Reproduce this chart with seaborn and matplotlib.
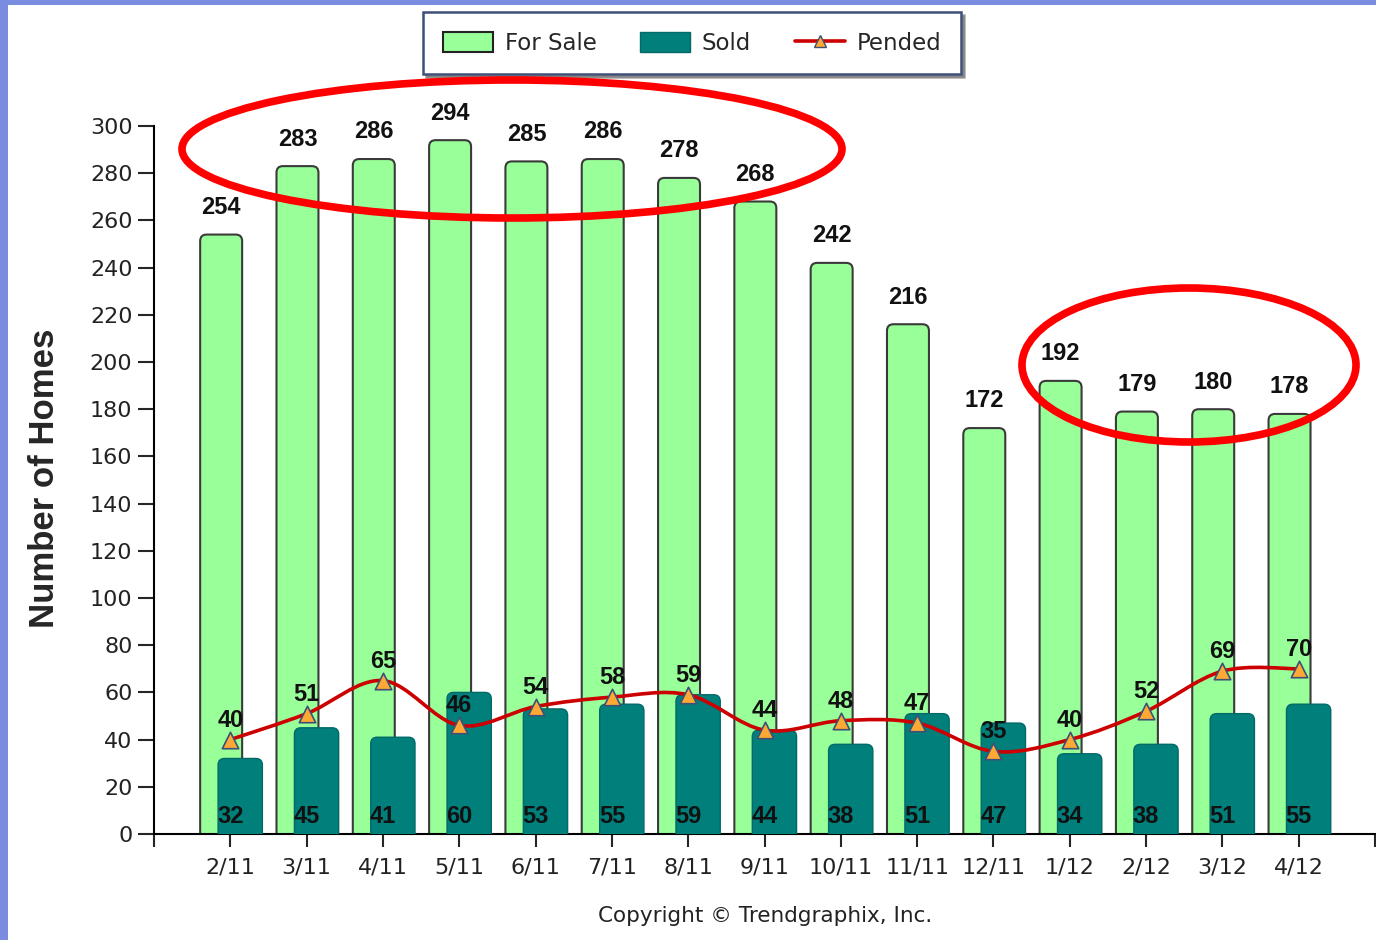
# Homes for sale / sold / pended, 2/11 - 4/12
import numpy as np
import pandas as pd
import matplotlib.pyplot as plt
import seaborn as sns
from matplotlib.patches import FancyBboxPatch, Ellipse, Rectangle, Patch, PathPatch, BoxStyle
from matplotlib.lines import Line2D
from matplotlib.path import Path

# ---------------------------------------------------------
# data
# ---------------------------------------------------------
months = ["2/11", "3/11", "4/11", "5/11", "6/11", "7/11", "8/11", "9/11",
          "10/11", "11/11", "12/11", "1/12", "2/12", "3/12", "4/12"]
for_sale = [254, 283, 286, 294, 285, 286, 278, 268, 242, 216, 172, 192, 179, 180, 178]
sold = [32, 45, 41, 60, 53, 55, 59, 44, 38, 51, 47, 34, 38, 51, 55]
pended = [40, 51, 65, 46, 54, 58, 59, 44, 48, 47, 35, 40, 52, 69, 70]
y_ticks = list(range(0, 301, 20))

# ---------------------------------------------------------
# style
# ---------------------------------------------------------
GREEN = "#99ff99"
TEAL = "#007f7b"
RED = "#cc0000"
ORANGE = "#ffa834"
BORDER = "#7a8ce0"

sns.set_style("ticks")
plt.rcParams["font.family"] = ["DejaVu Sans"]

W, H = 1376, 940
fig = plt.figure(figsize=(W / 100, H / 100), dpi=100)
fig.patch.set_facecolor(BORDER)
fig.add_artist(Rectangle((8 / W, 0), 1, 1 - 5 / H, transform=fig.transFigure,
                         facecolor="white", edgecolor="none", zorder=-5))

ax = fig.add_axes([154 / W, 1 - 834 / H, (1375 - 154) / W, (834 - 126) / H])
ax.set_facecolor("white")

df = pd.DataFrame({"month": months, "x": np.arange(len(months)),
                   "for_sale": for_sale, "sold": sold, "pended": pended})

# ---------------------------------------------------------
# bars
# ---------------------------------------------------------
sns.barplot(x=df["x"] - 0.12, y=df["for_sale"], native_scale=True, width=0.55,
            color=GREEN, saturation=1, edgecolor="#3a3a3a", linewidth=1.5, ax=ax)
sns.barplot(x=df["x"] + 0.13, y=df["sold"], native_scale=True, width=0.58,
            color=TEAL, saturation=1, edgecolor="#006a66", linewidth=1.0, ax=ax)

ax.set_xlim(-1, 15)
ax.set_ylim(0, 300)
ax.set_xlabel("")
ax.set_ylabel("")

# round the bar tops
bb = ax.get_window_extent()
asp = (bb.width / 16) / (bb.height / 300)
r = 0.085
bars = list(ax.patches)
for i, p in enumerate(bars):
    x0, w, h = p.get_x(), p.get_width(), p.get_height()
    fc, ec, lw = p.get_facecolor(), p.get_edgecolor(), p.get_linewidth()
    p.remove()
    ax.add_patch(FancyBboxPatch((x0, -r * asp), w, h + r * asp,
                                boxstyle=BoxStyle("Round", pad=0, rounding_size=r),
                                mutation_aspect=asp, facecolor=fc, edgecolor=ec,
                                linewidth=lw, zorder=2 if i < len(months) else 3))

# ---------------------------------------------------------
# pended line (smooth curve through the points)
# ---------------------------------------------------------
pts = df[["x", "pended"]].to_numpy(dtype=float)
n = len(pts)
verts = [pts[0]]
codes = [Path.MOVETO]
for i in range(n - 1):
    p0, p1 = pts[max(i - 1, 0)], pts[i]
    p2, p3 = pts[i + 1], pts[min(i + 2, n - 1)]
    verts += [p1 + (p2 - p0) / 6, p2 - (p3 - p1) / 6, p2]
    codes += [Path.CURVE4] * 3
ax.add_patch(PathPatch(Path(verts, codes), facecolor="none", edgecolor=RED,
                       linewidth=2.6, zorder=4))
sns.scatterplot(x=df["x"], y=df["pended"], marker="^", s=140, color=ORANGE,
                edgecolor="#3d5177", linewidth=1.2, zorder=5, ax=ax)
ax.set_xlabel("")
ax.set_ylabel("")

# ---------------------------------------------------------
# value labels
# ---------------------------------------------------------
lab = dict(ha="center", va="center", fontsize=17, fontweight="bold",
           family="Liberation Sans", color="#111111", zorder=6,
           textcoords="offset points")
for xi, v in zip(df["x"], df["for_sale"]):
    ax.annotate(str(v), (xi - 0.12, v), xytext=(0, 19.5), **lab)
for xi, v in zip(df["x"], df["sold"]):
    ax.annotate(str(v), (xi, 0), xytext=(0, 12.5), **lab)
for xi, v in zip(df["x"], df["pended"]):
    ax.annotate(str(v), (xi, v), xytext=(0, 14), **lab)

# ---------------------------------------------------------
# axes
# ---------------------------------------------------------
ax.set_xticks(df["x"])
ax.set_xticklabels(months)
ax.set_xticks([-1, 15], minor=True)
ax.set_yticks(y_ticks)
ax.tick_params(axis="x", which="both", length=9, width=1.5, pad=8,
               labelsize=16, labelcolor="#222222")
ax.tick_params(axis="y", length=11.5, width=1.5, pad=4,
               labelsize=16, labelcolor="#222222")
sns.despine(ax=ax)
for s in ["left", "bottom"]:
    ax.spines[s].set_linewidth(1.5)
    ax.spines[s].set_color("black")

fig.text(45 / W, 1 - 478 / H, "Number of Homes", rotation=90, ha="center",
         va="center", fontsize=25, fontweight="bold", family="Liberation Sans")
fig.text(765 / W, 1 - 916 / H, "Copyright \u00a9 Trendgraphix, Inc.",
         ha="center", va="center", fontsize=15.5, color="#222222")

# ---------------------------------------------------------
# legend
# ---------------------------------------------------------
handles = [
    Patch(facecolor=GREEN, edgecolor="#222222", linewidth=1.5, label="For Sale"),
    Patch(facecolor=TEAL, edgecolor="#006a66", linewidth=1.0, label="Sold"),
    Line2D([], [], color=RED, linewidth=2.6, marker="^", markersize=8,
           markerfacecolor=ORANGE, markeredgecolor="#3d5177", label="Pended"),
]
leg = fig.legend(handles=handles, loc="center", bbox_to_anchor=(692 / W, 1 - 43 / H),
                 ncol=3, frameon=True, fancybox=False, shadow=True, fontsize=16.5,
                 handlelength=2.2, handleheight=0.95, handletextpad=0.5,
                 columnspacing=1.9, borderpad=0.85, borderaxespad=0)
leg.get_frame().set_edgecolor("#3e4f78")
leg.get_frame().set_linewidth(1.8)

# ---------------------------------------------------------
# red highlight ellipses
# ---------------------------------------------------------
for cx, cy, ew, eh in [(512, 149, 660, 138), (1189, 365, 334, 154)]:
    fig.add_artist(Ellipse((cx / W, 1 - cy / H), ew / W, eh / H,
                           transform=fig.transFigure, fill=False,
                           edgecolor="#ff0000", linewidth=5.5, zorder=10))

fig.savefig("out.png", dpi=100, facecolor=fig.get_facecolor())
